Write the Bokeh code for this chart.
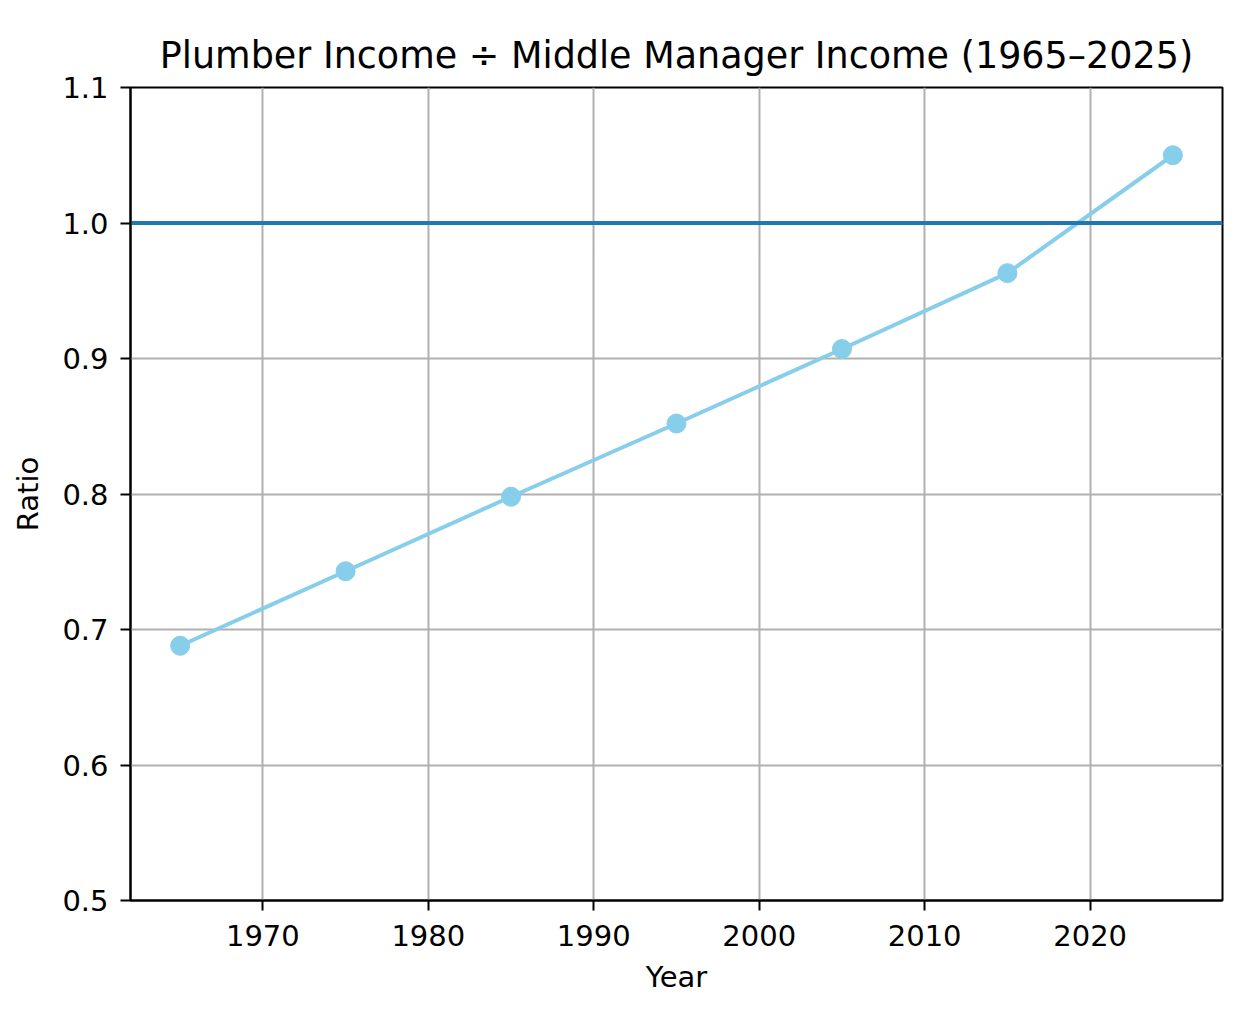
from bokeh.plotting import figure
from bokeh.models import Span, FixedTicker, Range1d, PrintfTickFormatter
from bokeh.embed import file_html
from bokeh.resources import INLINE

years = [1965, 1975, 1985, 1995, 2005, 2015, 2025]
ratio = [0.688, 0.743, 0.798, 0.852, 0.907, 0.963, 1.050]
parity = 1.0
x_ticks = [1970, 1980, 1990, 2000, 2010, 2020]
y_ticks = [0.5, 0.6, 0.7, 0.8, 0.9, 1.0, 1.1]
title_text = "Plumber Income \u00f7 Middle Manager Income (1965\u20132025)"

FONT = "DejaVu Sans"

p = figure(width=1242, height=996, output_backend="svg", toolbar_location=None,
           x_range=Range1d(1962, 2028), y_range=Range1d(0.5, 1.1),
           title=title_text)
p.min_border_left = 130
p.min_border_right = 20
p.min_border_top = 87
p.min_border_bottom = 90

p.title.text_font = FONT
p.title.text_font_style = "normal"
p.title.text_font_size = "36.5px"
p.title.text_color = "black"
p.title.align = "center"
p.title.standoff = 22

p.outline_line_color = "black"
p.outline_line_width = 2
p.outline_line_alpha = 1.0

for ax in (p.xaxis[0], p.yaxis[0]):
    ax.major_label_text_font = FONT
    ax.major_label_text_font_size = "29px"
    ax.major_label_text_color = "black"
    ax.axis_label_text_font = FONT
    ax.axis_label_text_font_size = "29px"
    ax.axis_label_text_font_style = "normal"
    ax.axis_label_text_color = "black"
    ax.axis_line_color = "black"
    ax.axis_line_width = 2
    ax.major_tick_line_color = "black"
    ax.major_tick_line_width = 2
    ax.major_tick_out = 10
    ax.major_tick_in = 0
    ax.minor_tick_line_color = None

p.xaxis.ticker = FixedTicker(ticks=x_ticks)
p.yaxis.ticker = FixedTicker(ticks=y_ticks)
p.yaxis.formatter = PrintfTickFormatter(format="%.1f")
p.xaxis.axis_label = "Year"
p.yaxis.axis_label = "Ratio"
p.xaxis.major_label_standoff = 14
p.yaxis.major_label_standoff = 12
p.xaxis.axis_label_standoff = 11
p.yaxis.axis_label_standoff = 14

p.grid.grid_line_color = "#b0b0b0"
p.grid.grid_line_width = 2
p.grid.grid_line_alpha = 1.0

span = Span(location=parity, dimension="width", line_color="#1f77b4", line_width=4, level="glyph")
p.add_layout(span)

p.line(years, ratio, line_color="#87ceeb", line_width=4)
p.scatter(years, ratio, size=19, fill_color="#87ceeb", line_color="#87ceeb")

open("out.html", "w").write(file_html(p, INLINE))
